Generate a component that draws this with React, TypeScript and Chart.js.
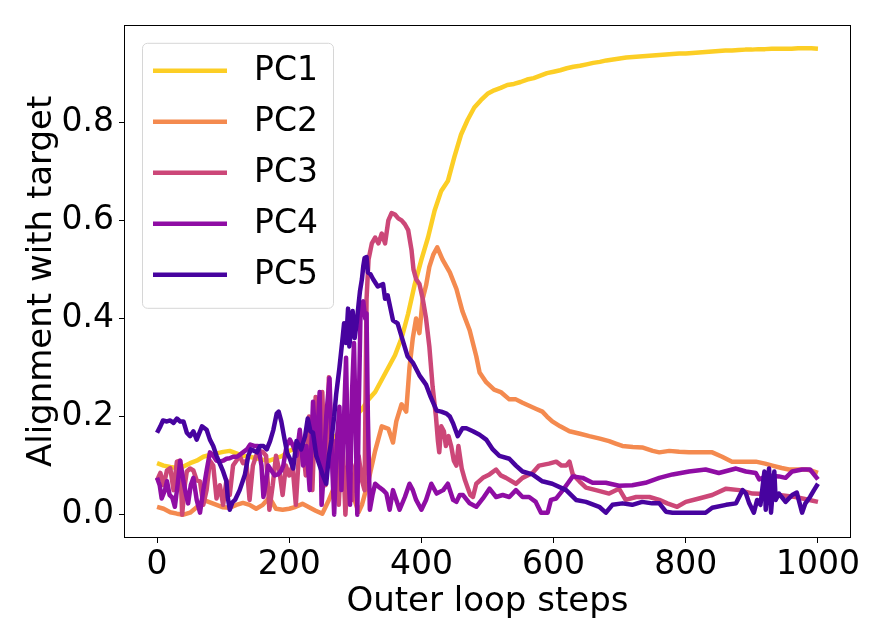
import React, { useEffect, useRef } from 'react';
import { Chart, registerables } from 'chart.js';

Chart.register(...registerables);

const SERIES_LABELS = ['PC1', 'PC2', 'PC3', 'PC4', 'PC5'];
const SERIES_COLORS = ['#fcce25', '#f48a4f', '#cc4778', '#8f0da4', '#47039f'];
const X_TICKS = [0, 200, 400, 600, 800, 1000];
const Y_TICKS = [0, 0.2, 0.4, 0.6, 0.8];
const X_TITLE = 'Outer loop steps';
const Y_TITLE = 'Alignment with target';

const PC1_X = [0,10,20,30,40,50,60,70,80,90,100,110,120,130,140,150,160,170,180,190,200,210,220,230,240,250,260,270,280,290,300,310,320,330,340,350,360,370,380,390,400,410,420,430,440,450,460,470,480,490,500,510,520,530,540,550,560,570,580,590,600,610,620,630,640,650,660,670,680,690,700,710,720,730,740,750,760,770,780,790,800,810,820,830,840,850,860,870,880,890,900,910,920,930,940,950,960,970,980,990,1000];
const PC1_Y = [0.105,0.1,0.097,0.095,0.098,0.105,0.11,0.118,0.122,0.125,0.128,0.13,0.125,0.12,0.118,0.115,0.112,0.11,0.115,0.12,0.13,0.135,0.14,0.14,0.145,0.15,0.155,0.16,0.175,0.19,0.2,0.215,0.235,0.25,0.275,0.3,0.325,0.36,0.41,0.47,0.52,0.565,0.62,0.66,0.68,0.73,0.775,0.805,0.83,0.845,0.858,0.865,0.87,0.876,0.878,0.882,0.887,0.89,0.895,0.9,0.903,0.906,0.91,0.913,0.915,0.918,0.921,0.923,0.926,0.928,0.93,0.932,0.933,0.934,0.935,0.936,0.937,0.938,0.939,0.94,0.94,0.941,0.942,0.943,0.944,0.945,0.946,0.946,0.947,0.948,0.948,0.949,0.949,0.95,0.95,0.95,0.95,0.951,0.951,0.951,0.95];

const PC2_X = [0,10,20,30,40,50,60,70,80,90,100,110,120,130,140,150,160,170,180,190,200,210,220,230,240,250,260,270,280,290,300,305,310,320,330,340,350,357,362,370,377,382,387,392,397,402,407,412,418,424,432,443,453,462,473,483,488,498,510,520,533,543,553,563,573,583,590,598,610,624,640,654,670,684,694,704,720,734,750,760,775,790,805,820,840,855,870,890,906,920,931,945,956,970,982,990,1000];
const PC2_Y = [0.016,0.012,0.005,0.002,0.0,0.004,0.015,0.03,0.025,0.02,0.015,0.014,0.02,0.024,0.02,0.012,0.02,0.035,0.012,0.01,0.012,0.016,0.022,0.015,0.008,0.002,0.03,0.062,0.072,0.063,0.025,0.005,0.02,0.07,0.13,0.18,0.175,0.147,0.19,0.225,0.21,0.3,0.36,0.4,0.37,0.44,0.467,0.505,0.53,0.545,0.52,0.494,0.46,0.415,0.376,0.323,0.29,0.27,0.255,0.25,0.235,0.235,0.228,0.222,0.216,0.21,0.2,0.19,0.18,0.17,0.165,0.16,0.155,0.15,0.145,0.14,0.138,0.137,0.13,0.127,0.13,0.128,0.127,0.127,0.127,0.118,0.108,0.108,0.108,0.104,0.1,0.095,0.092,0.092,0.092,0.09,0.085];

const PC3_X = [0,5,10,15,20,25,30,35,38,42,45,50,55,60,65,70,75,80,85,90,95,100,105,110,115,120,125,130,135,140,145,150,155,160,165,170,175,180,185,190,195,200,205,210,215,220,225,230,235,240,245,250,255,260,265,270,275,280,285,290,295,300,305,310,314,317,320,325,330,335,340,345,350,355,360,365,370,375,380,385,388,392,397,402,407,412,417,422,425,427,430,434,437,441,445,449,453,456,461,466,470,474,478,483,493,503,513,520,528,543,553,568,578,593,604,612,619,624,629,639,649,664,684,699,709,725,745,760,772,787,800,820,840,861,881,901,920,941,966,987,1000];
const PC3_Y = [0.07,0.085,0.06,0.09,0.095,0.05,0.108,0.11,0.0,0.06,0.088,0.094,0.09,0.07,0.068,0.02,0.05,0.11,0.1,0.033,0.06,0.02,0.07,0.04,0.1,0.11,0.12,0.105,0.11,0.03,0.1,0.12,0.13,0.128,0.12,0.01,0.06,0.12,0.09,0.04,0.1,0.08,0.1,0.02,0.13,0.15,0.08,0.2,0.05,0.24,0.12,0.25,0.06,0.28,0.1,0.15,0.02,0.18,0.0,0.12,0.03,0.1,0.12,0.07,0.05,0.44,0.52,0.553,0.565,0.553,0.573,0.553,0.6,0.615,0.612,0.604,0.6,0.592,0.58,0.54,0.5,0.48,0.47,0.44,0.4,0.343,0.26,0.2,0.15,0.127,0.18,0.17,0.14,0.16,0.14,0.11,0.1,0.14,0.094,0.07,0.055,0.04,0.036,0.063,0.075,0.082,0.092,0.08,0.075,0.063,0.075,0.085,0.1,0.104,0.108,0.1,0.1,0.108,0.082,0.068,0.055,0.05,0.043,0.053,0.03,0.036,0.036,0.03,0.023,0.016,0.026,0.033,0.04,0.053,0.05,0.043,0.042,0.04,0.036,0.03,0.026];

const PC4_X = [0,4,7,12,15,19,23,27,31,35,40,44,47,51,55,60,65,70,75,80,85,90,95,100,105,110,115,121,128,136,141,147,153,158,161,164,168,173,178,183,188,191,196,201,206,211,216,221,226,231,236,241,246,249,251,256,261,265,268,272,276,279,283,286,289,292,295,298,301,303,305,308,312,315,317,319,322,326,330,337,342,347,352,357,362,367,375,382,387,392,400,407,415,423,433,440,448,453,458,463,473,483,493,503,513,523,533,543,553,563,573,581,591,596,604,614,621,629,644,659,679,699,719,739,760,780,805,830,850,876,891,906,911,925,941,951,961,976,988,1000];
const PC4_Y = [0.075,0.06,0.033,0.05,0.068,0.04,0.035,0.016,0.06,0.11,0.068,0.04,0.023,0.06,0.075,0.03,0.004,0.05,0.09,0.127,0.12,0.11,0.108,0.11,0.114,0.115,0.118,0.118,0.125,0.133,0.143,0.14,0.14,0.1,0.036,0.06,0.1,0.09,0.08,0.082,0.09,0.1,0.14,0.153,0.14,0.12,0.173,0.1,0.14,0.05,0.23,0.12,0.25,0.02,0.06,0.2,0.278,0.1,0.0,0.15,0.22,0.05,0.2,0.32,0.1,0.02,0.25,0.35,0.15,0.0,0.2,0.42,0.435,0.4,0.41,0.2,0.01,0.04,0.063,0.055,0.05,0.043,0.01,0.05,0.03,0.01,0.036,0.063,0.05,0.03,0.01,0.03,0.063,0.043,0.05,0.063,0.03,0.026,0.04,0.04,0.023,0.016,0.033,0.053,0.036,0.04,0.036,0.05,0.036,0.036,0.026,0.004,0.004,0.03,0.033,0.05,0.063,0.078,0.075,0.065,0.065,0.059,0.06,0.065,0.075,0.082,0.088,0.092,0.085,0.094,0.088,0.085,0.072,0.08,0.078,0.075,0.088,0.092,0.092,0.072];

const PC5_X = [0,5,9,15,20,25,30,35,40,45,50,55,60,68,75,80,85,90,95,100,105,107,110,114,118,125,133,138,142,147,151,156,161,166,171,176,181,184,188,193,197,201,206,211,218,224,228,232,236,241,246,251,256,260,264,268,271,276,281,283,286,289,291,296,299,302,305,307,310,312,314,317,319,323,327,334,342,345,349,357,364,370,379,387,397,407,414,423,430,438,443,448,455,462,468,478,488,498,508,518,533,543,553,568,583,598,619,634,649,669,679,689,704,719,734,749,760,770,780,805,830,840,861,876,886,891,896,903,908,913,919,921,926,929,934,936,941,951,961,968,976,981,988,994,1000];
const PC5_Y = [0.167,0.18,0.192,0.19,0.192,0.187,0.196,0.19,0.19,0.167,0.16,0.17,0.153,0.18,0.173,0.153,0.14,0.12,0.104,0.088,0.068,0.035,0.01,0.025,0.03,0.05,0.082,0.12,0.133,0.13,0.127,0.14,0.14,0.133,0.15,0.173,0.206,0.21,0.19,0.153,0.125,0.114,0.094,0.15,0.133,0.16,0.196,0.17,0.167,0.12,0.1,0.08,0.063,0.12,0.153,0.2,0.245,0.3,0.363,0.39,0.35,0.42,0.343,0.415,0.36,0.39,0.43,0.455,0.48,0.506,0.523,0.525,0.494,0.49,0.48,0.465,0.47,0.44,0.447,0.396,0.39,0.363,0.323,0.31,0.284,0.265,0.24,0.212,0.21,0.206,0.2,0.186,0.16,0.176,0.176,0.17,0.163,0.153,0.133,0.12,0.114,0.1,0.088,0.082,0.068,0.063,0.05,0.03,0.026,0.016,0.004,0.02,0.023,0.02,0.026,0.023,0.023,0.006,0.004,0.004,0.004,0.014,0.02,0.023,0.05,0.043,0.023,0.004,0.03,0.02,0.088,0.01,0.094,0.004,0.088,0.03,0.043,0.026,0.04,0.045,0.004,0.023,0.036,0.05,0.063];

const SERIES_X = [PC1_X, PC2_X, PC3_X, PC4_X, PC5_X];
const SERIES_Y = [PC1_Y, PC2_Y, PC3_Y, PC4_Y, PC5_Y];

const FONT = 'DejaVu Sans';
const LINE_W = 4.5;

const framePlugin = {
  id: 'frameAndLegend',
  afterDatasetsDraw(chart: any) {
    const { ctx, chartArea } = chart;
    ctx.save();
    ctx.strokeStyle = '#000';
    ctx.lineWidth = 1;
    ctx.strokeRect(
      Math.round(chartArea.left) + 0.5,
      Math.round(chartArea.top) + 0.5,
      Math.round(chartArea.right - chartArea.left) - 1,
      Math.round(chartArea.bottom - chartArea.top) - 1
    );
    // legend box
    const bx = chartArea.left + 18;
    const by = chartArea.top + 18;
    const bw = 191;
    const bh = 265;
    ctx.beginPath();
    ctx.roundRect(bx + 0.5, by + 0.5, bw, bh, 5);
    ctx.fillStyle = 'rgba(255,255,255,0.8)';
    ctx.fill();
    ctx.strokeStyle = '#d6d6d6';
    ctx.lineWidth = 1;
    ctx.stroke();
    chart.data.datasets.forEach((ds: any, i: number) => {
      const y = by + 28 + i * 51;
      ctx.beginPath();
      ctx.moveTo(bx + 11, y);
      ctx.lineTo(bx + 85, y);
      ctx.strokeStyle = ds.borderColor;
      ctx.lineWidth = LINE_W;
      ctx.lineCap = 'butt';
      ctx.stroke();
      ctx.fillStyle = '#000';
      ctx.font = `33px "${FONT}"`;
      ctx.textBaseline = 'middle';
      ctx.textAlign = 'left';
      ctx.fillText(ds.label, bx + 112, y + 1);
    });
    ctx.restore();
  },
};

function ChartView() {
  const ref = useRef<HTMLCanvasElement | null>(null);
  useEffect(() => {
    if (!ref.current) return;
    const datasets = SERIES_LABELS.map((label, i) => ({
      label,
      data: SERIES_X[i].map((x, j) => ({ x, y: SERIES_Y[i][j] })),
      borderColor: SERIES_COLORS[i],
      backgroundColor: SERIES_COLORS[i],
      borderWidth: LINE_W,
      pointRadius: 0,
      tension: 0,
      borderJoinStyle: 'round' as const,
      fill: false,
      order: SERIES_LABELS.length - 1 - i,
    }));
    const chart = new Chart(ref.current, {
      type: 'line',
      data: { datasets },
      plugins: [framePlugin],
      options: {
        responsive: false,
        animation: false,
        devicePixelRatio: 1,
        layout: { padding: { top: 7, right: 23, left: 0, bottom: 0 } },
        plugins: { legend: { display: false }, tooltip: { enabled: false } },
        scales: {
          x: {
            type: 'linear',
            min: -50,
            max: 1050,
            afterBuildTicks: (s: any) => {
              s.ticks = X_TICKS.map((v) => ({ value: v }));
            },
            afterFit: (s: any) => {
              s.height = 81;
            },
            grid: { display: true, drawOnChartArea: false, drawTicks: true, tickLength: 5, color: '#000', lineWidth: 1 },
            border: { display: false },
            ticks: {
              color: '#000',
              font: { family: FONT, size: 33 },
              padding: 3,
              maxRotation: 0,
              autoSkip: false,
              callback: (v: any) => String(v),
            },
            title: {
              display: true,
              text: X_TITLE,
              color: '#000',
              font: { family: FONT, size: 34, lineHeight: 1 },
              padding: { top: 0, bottom: 0 },
            },
          },
          y: {
            type: 'linear',
            min: -0.0476,
            max: 0.9986,
            afterBuildTicks: (s: any) => {
              s.ticks = Y_TICKS.map((v) => ({ value: v }));
            },
            afterFit: (s: any) => {
              s.width = 124;
            },
            grid: { display: true, drawOnChartArea: false, drawTicks: true, tickLength: 5, color: '#000', lineWidth: 1 },
            border: { display: false },
            ticks: {
              color: '#000',
              font: { family: FONT, size: 33 },
              padding: 5,
              callback: (v: any) => Number(v).toFixed(1),
            },
            title: {
              display: true,
              text: Y_TITLE,
              color: '#000',
              font: { family: FONT, size: 34, lineHeight: 1 },
              padding: { top: 25, bottom: 0 },
            },
          },
        },
      },
    });
    return () => chart.destroy();
  }, []);
  return <canvas ref={ref} width={874} height={619} style={{ display: 'block' }} />;
}

export default function App() {
  return (
    <div style={{ position: 'absolute', left: 0, top: 0, width: 874, height: 619, background: '#fff' }}>
      <ChartView />
    </div>
  );
}
